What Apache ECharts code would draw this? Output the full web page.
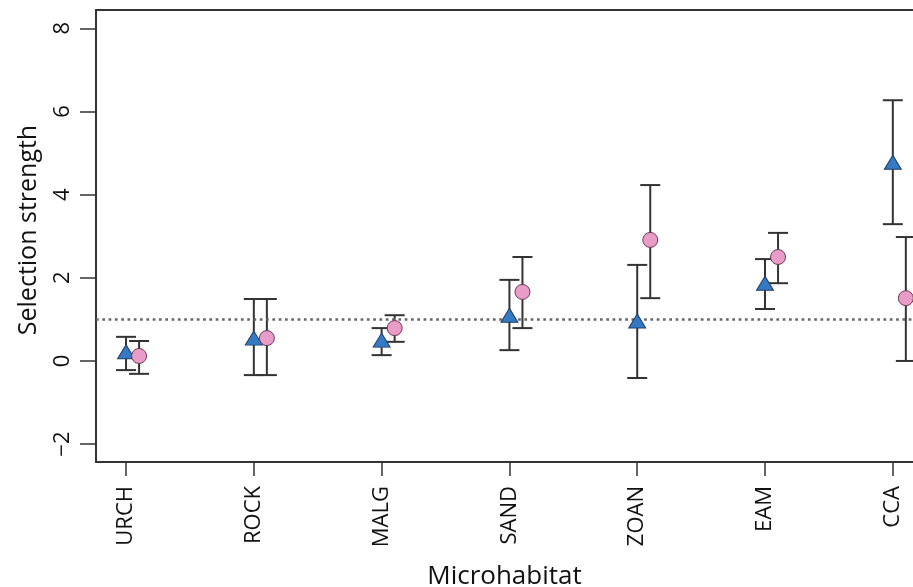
<!DOCTYPE html>
<html>
<head>
<meta charset="utf-8">
<script src="https://cdn.jsdelivr.net/npm/echarts@6/dist/echarts.min.js"></script>
<style>
html,body{margin:0;padding:0;background:#fff;}
#c{width:913px;height:587px;}
</style>
</head>
<body>
<div id="c"></div>
<script>
// ---- data ----
var categories = ['URCH','ROCK','MALG','SAND','ZOAN','EAM','CCA'];
var triMean  = [0.22, 0.55, 0.50, 1.10, 0.96, 1.87, 4.78];
var triLow   = [-0.22, -0.34, 0.14, 0.26, -0.41, 1.25, 3.29];
var triHigh  = [0.58, 1.49, 0.79, 1.95, 2.31, 2.45, 6.27];
var circMean = [0.12, 0.55, 0.79, 1.66, 2.91, 2.50, 1.51];
var circLow  = [-0.31, -0.34, 0.46, 0.79, 1.51, 1.87, 0.00];
var circHigh = [0.48, 1.49, 1.10, 2.50, 4.23, 3.08, 2.98];
var yTicks = [-2, 0, 2, 4, 6, 8];
var refLine = 1;

// ---- build ----
var circOffset = 0.102;
var xPos = categories.map(function(c, i){ return i + 1; });
function pts(means, off){ return means.map(function(v,i){ return [xPos[i] + off, v]; }); }
function bars(lows, highs, off){ return lows.map(function(v,i){ return [xPos[i] + off, v, highs[i]]; }); }

var font = '"Open Sans", "Liberation Sans", sans-serif';
var axisCol = '#333';

function errRender(params, api){
  var x = api.value(0);
  var lo = api.coord([x, api.value(1)]);
  var hi = api.coord([x, api.value(2)]);
  var hw = 10;
  var st = {stroke: '#333', lineWidth: 2};
  return {type: 'group', children: [
    {type:'line', shape:{x1:lo[0], y1:lo[1], x2:hi[0], y2:hi[1]}, style: st},
    {type:'line', shape:{x1:lo[0]-hw, y1:lo[1], x2:lo[0]+hw, y2:lo[1]}, style: st},
    {type:'line', shape:{x1:hi[0]-hw, y1:hi[1], x2:hi[0]+hw, y2:hi[1]}, style: st}
  ]};
}

var chart = echarts.init(document.getElementById('c'), null, {renderer: 'canvas'});
chart.setOption({
  animation: false,
  backgroundColor: '#fff',
  grid: {left: 96, top: 10, right: 0, bottom: 125, containLabel: false, outerBoundsMode: 'none'},
  xAxis: [{
    type: 'value', min: 0.765, max: 7.158, position: 'bottom',
    splitLine: {show: false},
    axisLine: {show: true, onZero: false, lineStyle: {color: axisCol, width: 2}},
    axisTick: {show: true, length: 14, customValues: xPos, lineStyle: {color: axisCol, width: 1.5}},
    axisLabel: {show: true, rotate: 90, margin: 24, customValues: xPos,
      fontFamily: font, fontSize: 22, color: '#111',
      formatter: function(v){ return categories[Math.round(v) - 1] || ''; }},
    name: 'Microhabitat', nameLocation: 'middle', nameGap: 102,
    nameTextStyle: {fontFamily: font, fontSize: 26, color: '#111'}
  }, {
    type: 'value', min: 0.765, max: 7.158, position: 'top',
    splitLine: {show: false},
    axisLine: {show: true, onZero: false, lineStyle: {color: axisCol, width: 2}},
    axisTick: {show: false}, axisLabel: {show: false}
  }],
  yAxis: {
    type: 'value', min: -2.43, max: 8.44,
    splitLine: {show: false},
    axisLine: {show: true, onZero: false, lineStyle: {color: axisCol, width: 2}},
    axisTick: {show: true, length: 16, customValues: yTicks, lineStyle: {color: axisCol, width: 1.5}},
    axisLabel: {show: true, rotate: 90, margin: 22, customValues: yTicks,
      fontFamily: font, fontSize: 22, color: '#111',
      formatter: function(v){ return v < 0 ? '\u2212' + Math.abs(v) : String(v); }},
    name: 'Selection strength', nameLocation: 'middle', nameGap: 55, nameRotate: 90,
    nameTextStyle: {fontFamily: font, fontSize: 25, color: '#111', padding: [0, 0, 0, 12]}
  },
  series: [
    {
      type: 'line', data: [], silent: true,
      markLine: {silent: true, symbol: 'none', label: {show: false},
        lineStyle: {color: '#666', type: [2.7, 3.6], width: 2.5},
        data: [{yAxis: refLine}]}
    },
    {type: 'custom', renderItem: errRender, data: bars(triLow, triHigh, 0), z: 2, silent: true},
    {type: 'custom', renderItem: errRender, data: bars(circLow, circHigh, circOffset), z: 2, silent: true},
    {type: 'scatter', data: pts(triMean, 0), symbol: 'triangle', symbolSize: [17, 14], z: 5,
      itemStyle: {color: '#3579c4', borderColor: '#1f3f66', borderWidth: 1, opacity: 1}},
    {type: 'scatter', data: pts(circMean, circOffset), symbol: 'circle', symbolSize: 15, z: 5,
      itemStyle: {color: '#ea9cc9', borderColor: '#6b3a55', borderWidth: 1, opacity: 1}}
  ]
});
</script>
</body>
</html>
